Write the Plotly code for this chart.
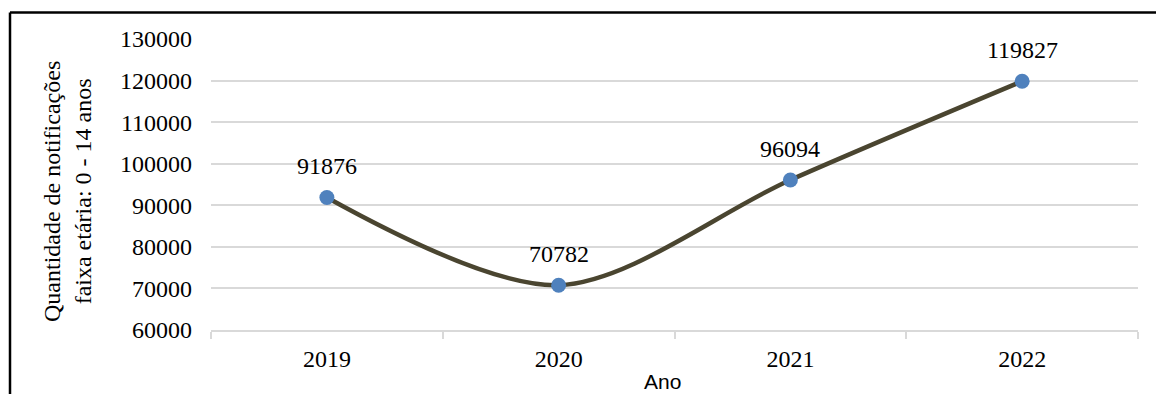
import plotly.graph_objects as go

anos = ["2019", "2020", "2021", "2022"]
notificacoes = [91876, 70782, 96094, 119827]
y_ticks = [60000, 70000, 80000, 90000, 100000, 110000, 120000, 130000]

W, H = 1156, 394
L, R, T, B = 211, 18, 39, 64
pw = W - L - R
ph = H - T - B

def px_x(p):
    return (p - L) / pw

def px_y(p):
    return (H - B - p) / ph

fig = go.Figure()
fig.add_trace(go.Scatter(
    x=anos, y=notificacoes, mode="lines+markers",
    line=dict(color="#4A4530", width=4.5, shape="spline", smoothing=0.9),
    marker=dict(color="#4F81BD", size=15, line=dict(width=0)),
    showlegend=False, hoverinfo="skip",
))

for i, v in enumerate(notificacoes):
    fig.add_annotation(x=i, y=v, text=str(v), showarrow=False, yshift=31,
                       xanchor="center", yanchor="middle",
                       font=dict(family="Liberation Serif", size=24, color="#000000"))

fig.add_annotation(xref="paper", yref="paper", x=px_x(67), y=px_y(192),
                   xanchor="center", yanchor="middle",
                   text="Quantidade de notificações<br>faixa etária: 0 - 14 anos",
                   textangle=-90, showarrow=False, align="center",
                   font=dict(family="Liberation Serif", size=24, color="#000000"))
fig.add_annotation(xref="paper", yref="paper", x=px_x(662), y=px_y(381),
                   xanchor="center", yanchor="middle",
                   text="Ano", showarrow=False,
                   font=dict(family="Liberation Sans", size=21, color="#000000"))

# outer frame (top and left edges visible)
fig.add_shape(type="line", xref="paper", yref="paper",
              x0=px_x(10), x1=px_x(1170), y0=px_y(12.5), y1=px_y(12.5),
              line=dict(color="#000000", width=2.5))
fig.add_shape(type="line", xref="paper", yref="paper",
              x0=px_x(10), x1=px_x(10), y0=px_y(12.5), y1=px_y(420),
              line=dict(color="#000000", width=2.5))

fig.update_xaxes(
    type="category", range=[-0.5, 3.5],
    tickson="boundaries", ticks="outside", ticklen=7, tickcolor="#D9D9D9", tickwidth=1.5,
    showgrid=False, showline=True, linecolor="#D9D9D9", linewidth=1.5,
    tickfont=dict(family="Liberation Serif", size=24, color="#000000"),
    ticklabelstandoff=6, zeroline=False,
)
fig.update_yaxes(
    range=[60000, 130000], tickvals=y_ticks, ticktext=[str(t) for t in y_ticks],
    showgrid=True, gridcolor="#D9D9D9", gridwidth=1.5, zeroline=False, showline=False,
    ticks="", tickfont=dict(family="Liberation Serif", size=24, color="#000000"),
    ticklabelstandoff=18,
)
fig.update_layout(
    width=W, height=H, margin=dict(l=L, r=R, t=T, b=B, autoexpand=False),
    paper_bgcolor="#FFFFFF", plot_bgcolor="#FFFFFF",
)
fig.write_html("out.html", config={"displayModeBar": False},
               post_script="document.body.style.margin='0';document.body.style.overflow='hidden';")
